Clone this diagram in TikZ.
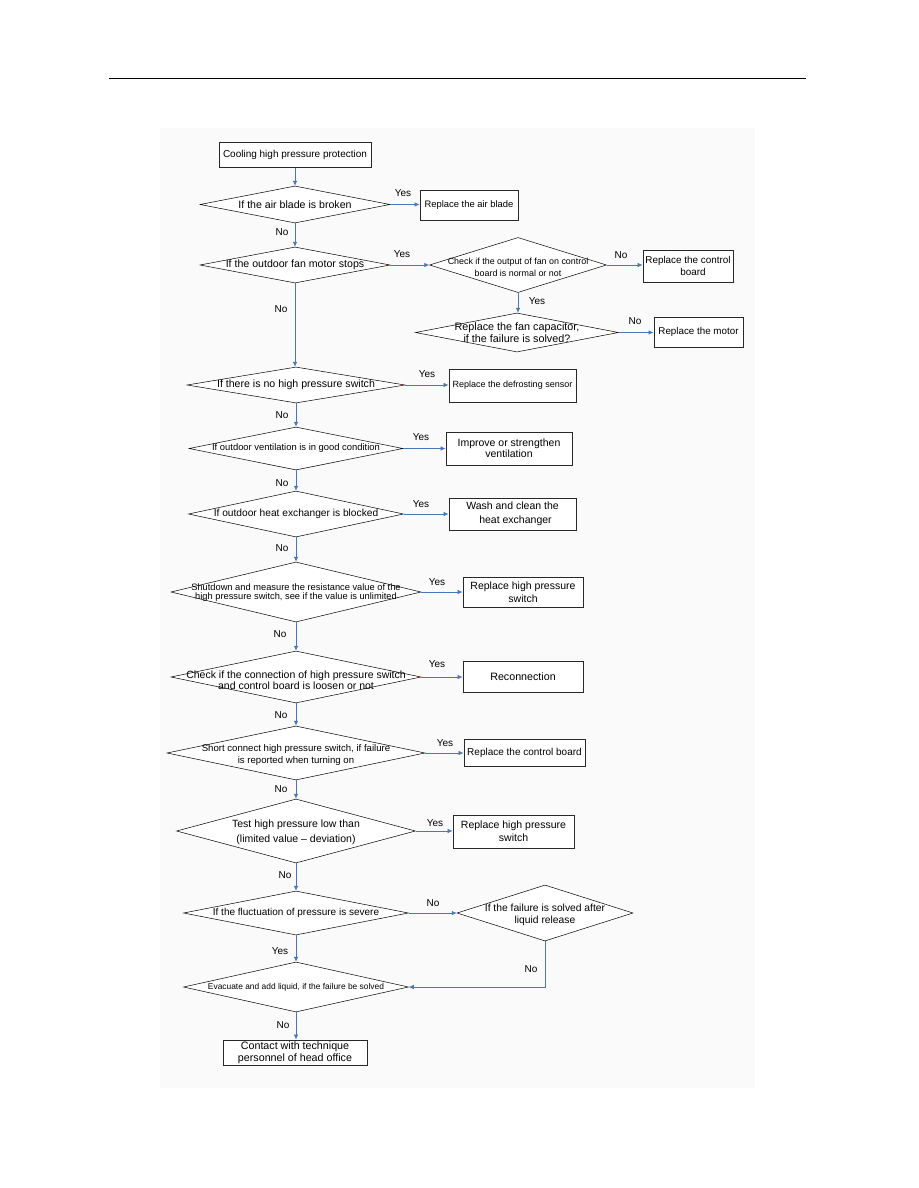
\documentclass[tikz,border=0pt]{standalone}
\usepackage{fontspec}
\setmainfont{Liberation Sans}
\usetikzlibrary{shapes.geometric,arrows.meta}
\definecolor{arrblue}{RGB}{70,120,190}
\definecolor{panel}{RGB}{250,250,250}
\definecolor{boxline}{RGB}{40,40,40}
\newcommand{\fsz}[2]{\fontsize{#1}{#2}\selectfont}
\tikzset{
  box/.style={draw=boxline, line width=0.8pt, fill=white, inner sep=0pt, align=center},
  dia/.style={draw, diamond, line width=0.5pt, fill=white, inner sep=0pt},
  dtext/.style={inner sep=0pt, align=center},
  arr/.style={draw=arrblue, line width=0.7pt, -{Latex[length=5pt,width=4.5pt]}},
  lbl/.style={inner sep=0pt, font=\fsz{10}{11}},
}
\begin{document}
\begin{tikzpicture}[x=1pt,y=-1pt]
\useasboundingbox (0,0) rectangle (918,1188);
\fill[white] (0,0) rectangle (918,1188);
\fill[panel] (160,128) rectangle (755,1088);
% header rule
\draw[line width=1pt] (109,79) -- (806,79);

% start
\node[box, minimum width=152, minimum height=25, font=\fsz{10}{12}] (start) at (295,155) {Cooling high pressure protection};

% D1
\node[dia, minimum width=190, minimum height=37] (d1) at (295,204.5) {};
\node[dtext, font=\fsz{10.6}{12}] (d1t) at (d1) {If the air blade is broken};
\node[box, minimum width=98, minimum height=30, font=\fsz{9.4}{11}] (b1) at (469,205) {Replace the air blade};

% D2
\node[dia, minimum width=190, minimum height=36] (d2) at (295,265) {};
\node[dtext, font=\fsz{10.6}{12}] (d2t) at (d2) {If the outdoor fan motor stops};

% D3
\node[dia, minimum width=177, minimum height=55] (d3) at (518,265) {};
\node[dtext, font=\fsz{8.9}{11.7}] (d3t) at (518,267) {Check if the output of fan on control\\board is normal or not};
\node[box, minimum width=90, minimum height=32, font=\fsz{9.9}{12}] (b3) at (688,266) {Replace the control\\\hspace*{10pt}board};

% D4
\node[dia, minimum width=203, minimum height=39] (d4) at (517,332.5) {};
\node[dtext, font=\fsz{10.8}{11.7}] (d4t) at (517,332.5) {Replace the fan capacitor,\\if the failure is solved?};
\node[box, minimum width=89, minimum height=30, font=\fsz{9.8}{12}] (b4) at (698.5,332) {Replace the motor};

% D5
\node[dia, minimum width=218, minimum height=36] (d5) at (296,385) {};
\node[dtext, font=\fsz{10.6}{12}] (d5t) at (d5) {If there is no high pressure switch};
\node[box, minimum width=127, minimum height=33, font=\fsz{9}{11}] (b5) at (512.5,385.5) {Replace the defrosting sensor};

% D6
\node[dia, minimum width=214, minimum height=43] (d6) at (296,448.5) {};
\node[dtext, font=\fsz{9.4}{12}] (d6t) at (d6) {If outdoor ventilation is in good condition};
\node[box, minimum width=126, minimum height=33, font=\fsz{10.5}{11}] (b6) at (509,448.5) {Improve or strengthen\\ventilation};

% D7
\node[dia, minimum width=215, minimum height=46] (d7) at (296,514) {};
\node[dtext, font=\fsz{10.2}{12}] (d7t) at (d7) {If outdoor heat exchanger is blocked};
\node[box, minimum width=127, minimum height=32, font=\fsz{10.5}{14}] (b7) at (512.5,514) {Wash and clean the\\\hspace*{6pt}heat exchanger};

% D8
\node[dia, minimum width=250, minimum height=60] (d8) at (296,592) {};
\node[dtext, font=\fsz{9.3}{9.5}] (d8t) at (296,592.5) {Shutdown and measure the resistance value of the\\high pressure switch, see if the value is unlimited};
\node[box, minimum width=120, minimum height=30, font=\fsz{10.5}{13}] (b8) at (523,592) {Replace high pressure\\switch};

% D9
\node[dia, minimum width=250, minimum height=52] (d9) at (296,677) {};
\node[dtext, font=\fsz{10.5}{10.8}] (d9t) at (296,680) {Check if the connection of high pressure switch\\and control board is loosen or not};
\node[box, minimum width=120, minimum height=31, font=\fsz{10.7}{12}] (b9) at (523,676.5) {Reconnection};

% D10
\node[dia, minimum width=258, minimum height=54] (d10) at (296,753) {};
\node[dtext, font=\fsz{9.6}{11.7}] (d10t) at (296,755) {Short connect high pressure switch, if failure\\is reported when turning on};
\node[box, minimum width=121, minimum height=27, font=\fsz{10}{12}] (b10) at (524.5,752.5) {Replace the control board};

% D11
\node[dia, minimum width=239, minimum height=64] (d11) at (296,831) {};
\node[dtext, font=\fsz{10.5}{15}] (d11t) at (296,832) {Test high pressure low than\\(limited value -- deviation)};
\node[box, minimum width=121, minimum height=33, font=\fsz{10.5}{13}] (b11) at (513.5,831.5) {Replace high pressure\\switch};

% D12
\node[dia, minimum width=225, minimum height=44] (d12) at (296,913) {};
\node[dtext, font=\fsz{10}{12}] (d12t) at (d12) {If the fluctuation of pressure is severe};

% D13
\node[dia, minimum width=176, minimum height=56] (d13) at (545,913) {};
\node[dtext, font=\fsz{10.3}{12.3}] (d13t) at (545,915) {If the failure is solved after\\liquid release};

% D14
\node[dia, minimum width=225, minimum height=50] (d14) at (296,987) {};
\node[dtext, font=\fsz{8.4}{12}] (d14t) at (d14) {Evacuate and add liquid, if the failure be solved};

% end
\node[box, minimum width=144, minimum height=25, font=\fsz{10.7}{11.7}] (end) at (295,1052.5) {Contact with technique\\personnel of head office};

% connectors
\draw[arr] (start.south) -- (start.south |- d1.north);
\draw[arr] (d1.east) -- (d1.east -| b1.west);
\draw[arr] (d1.south) -- (d1.south |- d2.north);
\draw[arr] (d2.east) -- (d3.west);
\draw[arr] (d3.east) -- (d3.east -| b3.west);
\draw[arr] (d3.south) -- (d3.south |- d4.north);
\draw[arr] (d4.east) -- (d4.east -| b4.west);
\draw[arr] (d2.south) -- (d2.south |- d5.north);
\draw[arr] (d5.east) -- (d5.east -| b5.west);
\draw[arr] (d5.south) -- (d5.south |- d6.north);
\draw[arr] (d6.east) -- (d6.east -| b6.west);
\draw[arr] (d6.south) -- (d6.south |- d7.north);
\draw[arr] (d7.east) -- (d7.east -| b7.west);
\draw[arr] (d7.south) -- (d7.south |- d8.north);
\draw[arr] (d8.east) -- (d8.east -| b8.west);
\draw[arr] (d8.south) -- (d8.south |- d9.north);
\draw[arr] (d9.east) -- (d9.east -| b9.west);
\draw[arr] (d9.south) -- (d9.south |- d10.north);
\draw[arr] (d10.east) -- (d10.east -| b10.west);
\draw[arr] (d10.south) -- (d10.south |- d11.north);
\draw[arr] (d11.east) -- (d11.east -| b11.west);
\draw[arr] (d11.south) -- (d11.south |- d12.north);
\draw[arr] (d12.east) -- (d13.west);
\draw[arr] (d12.south) -- (d12.south |- d14.north);
\draw[arr] (d13.south) |- (d14.east);
\draw[arr] (d14.south) -- (d14.south |- end.north);

% labels
\node[lbl] (l1) at (403,193) {Yes};
\node[lbl] (l2) at (282,232) {No};
\node[lbl] (l3) at (402,254) {Yes};
\node[lbl] (l4) at (621,255) {No};
\node[lbl] (l5) at (537,301) {Yes};
\node[lbl] (l6) at (635,321) {No};
\node[lbl] (l7) at (281,309) {No};
\node[lbl] (l8) at (427,374) {Yes};
\node[lbl] (l9) at (282,415) {No};
\node[lbl] (l10) at (421,437) {Yes};
\node[lbl] (l11) at (282,483) {No};
\node[lbl] (l12) at (421,504) {Yes};
\node[lbl] (l13) at (282,548) {No};
\node[lbl] (l14) at (437,582) {Yes};
\node[lbl] (l15) at (280,634) {No};
\node[lbl] (l16) at (437,664) {Yes};
\node[lbl] (l17) at (281,715) {No};
\node[lbl] (l18) at (445,743) {Yes};
\node[lbl] (l19) at (281,789) {No};
\node[lbl] (l20) at (435,823) {Yes};
\node[lbl] (l21) at (285,875) {No};
\node[lbl] (l22) at (433,903) {No};
\node[lbl] (l23) at (280,951) {Yes};
\node[lbl] (l24) at (531,969) {No};
\node[lbl] (l25) at (283,1025) {No};
\end{tikzpicture}
\end{document}
